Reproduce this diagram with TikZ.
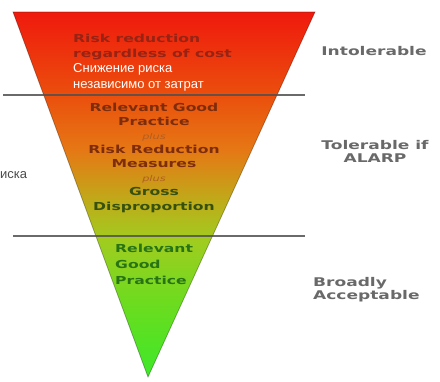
\documentclass[tikz,border=0pt]{standalone}
\usepackage{fontspec}
\setmainfont{Liberation Sans}
\newfontfamily\widefont{DejaVu Sans}[FakeStretch=1.42]
\usetikzlibrary{positioning}

\definecolor{costred}{RGB}{150,35,20}
\definecolor{alarpbrown}{RGB}{125,45,12}
\definecolor{grossolive}{RGB}{55,80,12}
\definecolor{pluscol}{RGB}{175,95,35}
\definecolor{goodgreen}{RGB}{40,115,20}
\definecolor{labelgray}{RGB}{105,105,105}
\definecolor{rusgray}{RGB}{75,75,75}
\definecolor{dividergray}{RGB}{80,80,80}

\pgfdeclareverticalshading{risk}{100bp}{rgb(0bp)=(0.24,0.91,0.16); rgb(25bp)=(0.24,0.91,0.16);
  rgb(35.5bp)=(0.43,0.86,0.12); rgb(43.8bp)=(0.63,0.80,0.12); rgb(49.2bp)=(0.75,0.67,0.10);
  rgb(56.1bp)=(0.90,0.47,0.08); rgb(63.6bp)=(0.92,0.31,0.05); rgb(75bp)=(0.94,0.10,0.05);
  rgb(100bp)=(0.94,0.10,0.05)}

\newcommand\plusword{{\color{pluscol}\mdseries\itshape\fontsize{8}{14.15}\selectfont plus}}

\begin{document}
\begin{tikzpicture}[x=1pt,y=-1pt,
    divider/.style={draw=dividergray,line width=2.6pt,opacity=0.85},
    intext/.style={inner sep=0pt,font=\widefont\bfseries\fontsize{11}{15}\selectfont},
    rustext/.style={inner sep=0pt,font=\fontsize{13}{16}\selectfont},
    zonelabel/.style={inner sep=0pt,text=labelgray,font=\widefont\bfseries\fontsize{12}{13}\selectfont}]
  \useasboundingbox (0,0) rectangle (440,382);
  % the triangle
  \coordinate (topleft) at (13,12);
  \coordinate (topright) at (315,12);
  \coordinate (apex) at (148,377);
  \shade[shading=risk] (topleft) -- (topright) -- (apex) -- cycle;
  \draw[black,draw opacity=0.3,line width=0.8pt] (topleft) -- (topright) -- (apex) -- cycle;
  % dividers
  \coordinate (upper west) at (3,95);
  \coordinate (upper east) at (305,95);
  \coordinate (lower west) at (13,236);
  \coordinate (lower east) at (305,236);
  \draw[divider] (upper west) -- (upper east);
  \draw[divider] (lower west) -- (lower east);
  % text inside
  \node[intext,text=costred,anchor=west,align=left] (cost) at (73,47.5) {Risk reduction\\regardless of cost};
  \node[rustext,text=white,align=left] (rus) [below right=3pt and 0pt of cost.south west] {Снижение риска\\независимо от затрат};
  \node[intext,text=alarpbrown,align=center,font=\widefont\bfseries\fontsize{11}{14.15}\selectfont] (alarp) at (154,157.5)
    {Relevant Good\\Practice\\\plusword\\Risk Reduction\\Measures\\\plusword\\\textcolor{grossolive}{Gross}\\\textcolor{grossolive}{Disproportion}};
  \node[intext,text=goodgreen,anchor=west,align=left,font=\widefont\bfseries\fontsize{11}{16}\selectfont] (good) at (115,264) {Relevant\\Good\\Practice};
  % zone labels
  \node[zonelabel] (intolerable) at (374,51) {Intolerable};
  \node[zonelabel,align=center] (tolerable) at (375,151) {Tolerable if\\ALARP};
  \node[zonelabel,anchor=west,align=left] (broadly) at (313,290) {Broadly\\Acceptable};
  \node[rustext,text=rusgray,anchor=west] (rusleft) at (0,175) {иска};
\end{tikzpicture}
\end{document}
